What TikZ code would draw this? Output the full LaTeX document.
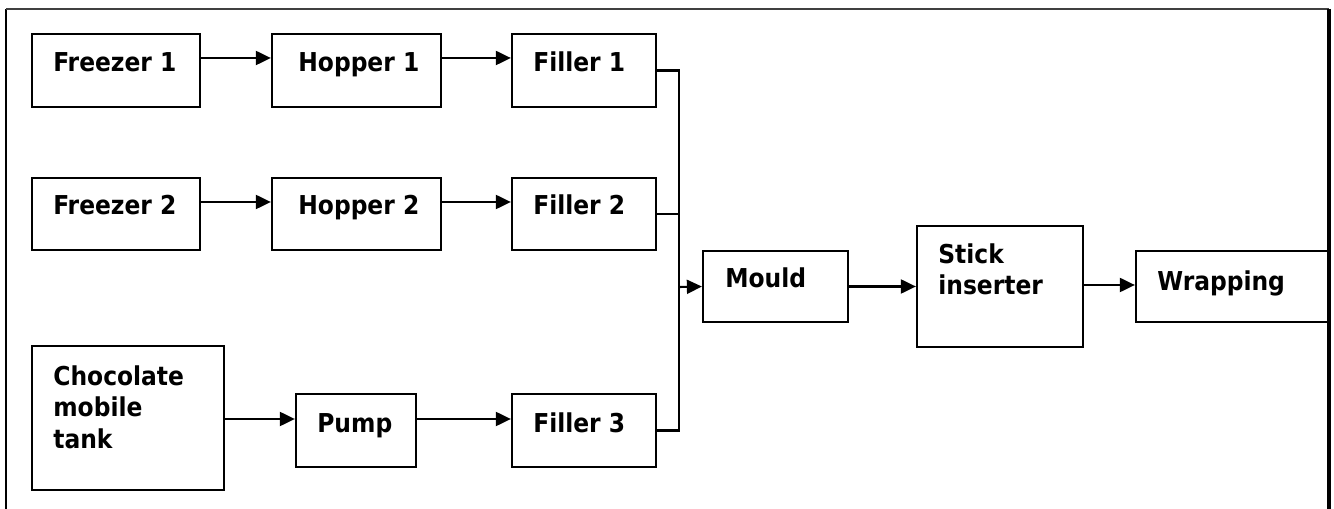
\documentclass[tikz,border=0pt]{standalone}
\usepackage{fontspec}
\setmainfont{DejaVu Sans Condensed}[BoldFont={DejaVu Sans Condensed Bold}]
\usetikzlibrary{arrows.meta,fit,calc}

\tikzset{
  stage/.style={draw=black, line width=1.3pt, inner sep=0pt, fit={#1}},
  caption/.style={anchor=base west, inner sep=0pt, font=\fontsize{14.8}{17.9}\selectfont\bfseries, align=left},
  flow/.style={line width=1.2pt, -{Triangle[length=0.3cm, width=0.28cm]}},
  wire/.style={line width=1.2pt}
}

\begin{document}
\begin{tikzpicture}[x=0.02cm, y=-0.02cm]
  \useasboundingbox (0,0) rectangle (1334,509);
  \clip (0,0) rectangle (1334,509);
  \fill[white] (0,0) rectangle (1334,509);

  % outer frame (open at the bottom)
  \draw[line width=1.3pt] (6,520) -- (6,9);
  \draw[line width=1.1pt, black!75] (6,9) -- (1329,9);
  \draw[line width=1.8pt] (1329,9) -- (1329,520);

  % process stages
  \node[stage={(32,34) (200,107)}]   (fz1) {};
  \node[stage={(272,34) (441,107)}]  (hp1) {};
  \node[stage={(512,34) (656,107)}]  (fl1) {};
  \node[stage={(32,178) (200,250)}]  (fz2) {};
  \node[stage={(272,178) (441,250)}] (hp2) {};
  \node[stage={(512,178) (656,250)}] (fl2) {};
  \node[stage={(32,346) (224,490)}]  (tank) {};
  \node[stage={(296,394) (416,467)}] (pump) {};
  \node[stage={(512,394) (656,467)}] (fl3) {};
  \node[stage={(703,251) (848,322)}] (mould) {};
  \node[stage={(917,226) (1083,347)}] (stick) {};
  \node[stage={(1136,251) (1329,322)}] (wrap) {};

  % stage captions (multi-line captions sit on their last line)
  \node[caption] at (53,72)   {Freezer 1};
  \node[caption] at (298,72)  {Hopper 1};
  \node[caption] at (533,72)  {Filler 1};
  \node[caption] at (53,215)  {Freezer 2};
  \node[caption] at (298,215) {Hopper 2};
  \node[caption] at (533,215) {Filler 2};
  \node[caption] at (53,448)  {Chocolate\\mobile\\tank};
  \node[caption] at (317,432) {Pump};
  \node[caption] at (533,432) {Filler 3};
  \node[caption] at (725,288) {Mould};
  \node[caption] at (938,295) {Stick\\inserter};
  \node[caption] at (1157,291) {Wrapping};

  % feed lines
  \draw[flow] (fz1.east |- 0,58)  -- (hp1.west |- 0,58);
  \draw[flow] (hp1.east |- 0,58)  -- (fl1.west |- 0,58);
  \draw[flow] (fz2.east |- 0,202) -- (hp2.west |- 0,202);
  \draw[flow] (hp2.east |- 0,202) -- (fl2.west |- 0,202);
  \draw[flow] (tank.east |- 0,419) -- (pump.west |- 0,419);
  \draw[flow] (pump.east |- 0,419) -- (fl3.west |- 0,419);

  % fillers merge into the mould
  \coordinate (merge) at (679,287);
  \draw[wire] (fl1.east) -| (merge) |- (fl3.east);
  \draw[wire] (fl2.east) -- (fl2.east -| merge);
  \draw[flow] (merge) -- (mould.west);
  \draw[flow] (mould.east) -- (stick.west);
  \draw[flow] (stick.east |- 0,285) -- (wrap.west |- 0,285);
\end{tikzpicture}
\end{document}
